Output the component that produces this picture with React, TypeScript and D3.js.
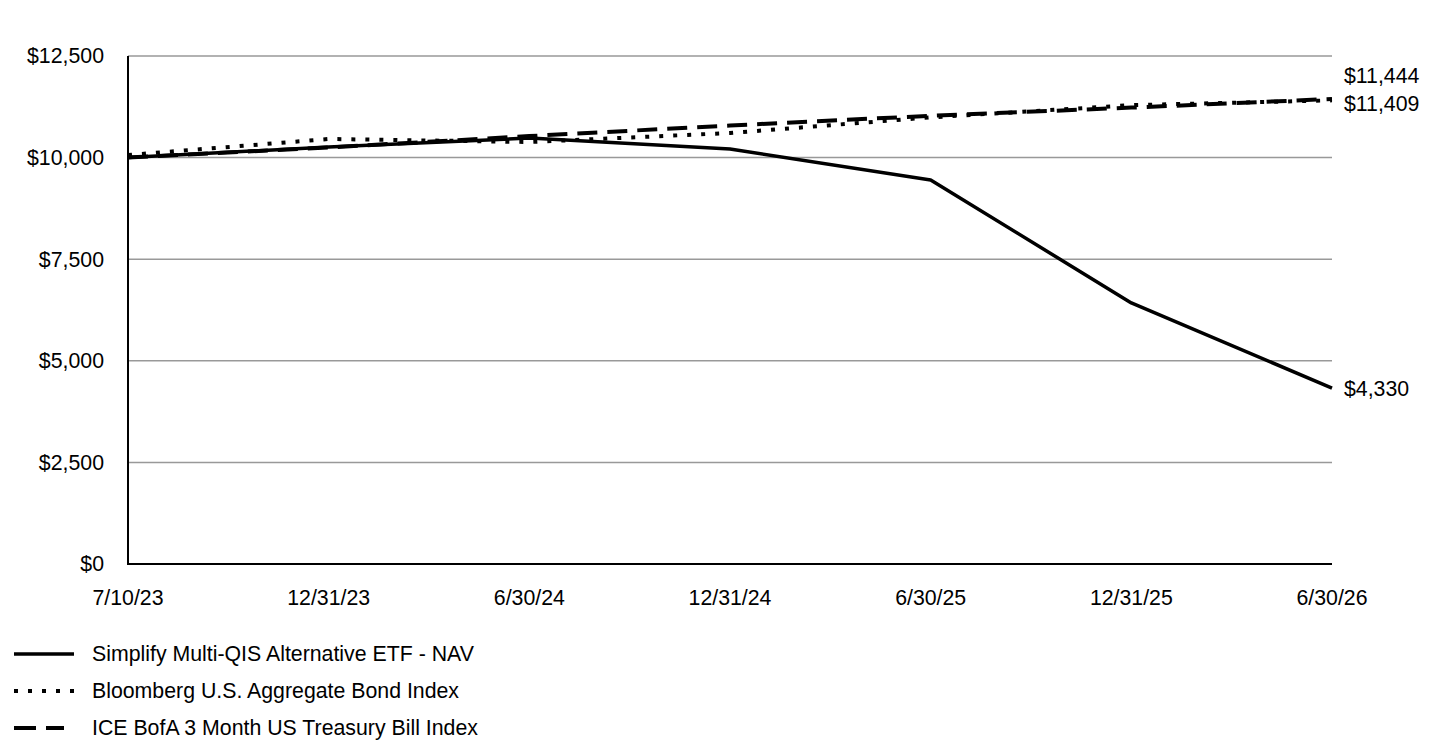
import React, { useEffect, useRef } from 'react';
import * as d3 from 'd3';

// Growth of $10,000 — period end dates
const dates = ['7/10/23', '12/31/23', '6/30/24', '12/31/24', '6/30/25', '12/31/25', '6/30/26'];

const fundValues = [10000, 10261, 10482, 10212, 9449, 6424, 4330];
const aggBondValues = [10064, 10458, 10384, 10605, 10990, 11290, 11409];
const tBillValues = [10000, 10250, 10530, 10790, 11030, 11230, 11444];

const yTicks = [0, 2500, 5000, 7500, 10000, 12500];

const seriesNames = [
  'Simplify Multi-QIS Alternative ETF - NAV',
  'Bloomberg U.S. Aggregate Bond Index',
  'ICE BofA 3 Month US Treasury Bill Index',
];

const FONT = '"Liberation Sans", Arial, sans-serif';
const FS = 21.3;

const App: React.FC = () => {
  const svgRef = useRef<SVGSVGElement>(null);

  useEffect(() => {
    if (!svgRef.current) return;
    const svg = d3.select(svgRef.current);
    svg.selectAll('*').remove();

    const left = 128;
    const right = 1332;
    const top = 56;
    const bottom = 564;

    const x = d3.scalePoint<string>().domain(dates).range([left, right]);
    const y = d3.scaleLinear().domain([0, 12500]).range([bottom, top]);

    // gridlines
    svg.append('g')
      .selectAll('line')
      .data(yTicks.filter(t => t > 0))
      .enter().append('line')
      .attr('x1', left)
      .attr('x2', right)
      .attr('y1', d => y(d))
      .attr('y2', d => y(d))
      .attr('stroke', '#999999')
      .attr('stroke-width', 1.5);

    // axes lines
    svg.append('line')
      .attr('x1', left).attr('x2', left)
      .attr('y1', top).attr('y2', bottom)
      .attr('stroke', '#000').attr('stroke-width', 2);
    svg.append('line')
      .attr('x1', left - 1).attr('x2', right)
      .attr('y1', bottom).attr('y2', bottom)
      .attr('stroke', '#000').attr('stroke-width', 2);

    // y tick labels
    svg.append('g')
      .selectAll('text')
      .data(yTicks)
      .enter().append('text')
      .attr('x', 104)
      .attr('y', d => y(d))
      .attr('dy', '0.35em')
      .attr('text-anchor', 'end')
      .attr('font-family', FONT)
      .attr('font-size', FS)
      .text(d => d3.format('$,')(d));

    // x tick labels
    svg.append('g')
      .selectAll('text')
      .data(dates)
      .enter().append('text')
      .attr('x', d => x(d) as number)
      .attr('y', 598)
      .attr('dy', '0.35em')
      .attr('text-anchor', 'middle')
      .attr('font-family', FONT)
      .attr('font-size', FS)
      .text(d => d);

    const line = d3.line<number>()
      .x((_, i) => x(dates[i]) as number)
      .y(d => y(d));

    const series = [
      { values: tBillValues, dash: '20,10' },
      { values: aggBondValues, dash: '4,10' },
      { values: fundValues, dash: null as string | null },
    ];

    series.forEach(s => {
      svg.append('path')
        .datum(s.values)
        .attr('d', line)
        .attr('fill', 'none')
        .attr('stroke', '#000')
        .attr('stroke-width', s.dash ? 4 : 3.5)
        .attr('stroke-dasharray', s.dash)
        .attr('stroke-linejoin', 'round');
    });

    // end labels
    const endLabels = [
      { value: tBillValues[tBillValues.length - 1], yPos: 76 },
      { value: aggBondValues[aggBondValues.length - 1], yPos: 104 },
      { value: fundValues[fundValues.length - 1], yPos: y(fundValues[fundValues.length - 1]) + 1 },
    ];
    svg.append('g')
      .selectAll('text')
      .data(endLabels)
      .enter().append('text')
      .attr('x', 1344)
      .attr('y', d => d.yPos)
      .attr('dy', '0.35em')
      .attr('font-family', FONT)
      .attr('font-size', FS)
      .text(d => d3.format('$,')(d.value));

    // legend
    const legend = [
      { name: seriesNames[0], dash: null as string | null, x2: 74 },
      { name: seriesNames[1], dash: '4,10', x2: 76 },
      { name: seriesNames[2], dash: '22,10', x2: 64 },
    ];
    const lg = svg.append('g');
    legend.forEach((item, i) => {
      const ly = 654 + i * 37;
      lg.append('line')
        .attr('x1', 14).attr('x2', item.x2)
        .attr('y1', ly).attr('y2', ly)
        .attr('stroke', '#000')
        .attr('stroke-width', item.dash ? 4 : 3.5)
        .attr('stroke-dasharray', item.dash);
      lg.append('text')
        .attr('x', 92)
        .attr('y', ly)
        .attr('dy', '0.35em')
        .attr('font-family', FONT)
        .attr('font-size', FS)
        .text(item.name);
    });
  }, []);

  return (
    <div style={{ position: 'absolute', left: 0, top: 0, width: 1440, height: 744, background: '#fff' }}>
      <svg ref={svgRef} width={1440} height={744} />
    </div>
  );
};

export default App;
